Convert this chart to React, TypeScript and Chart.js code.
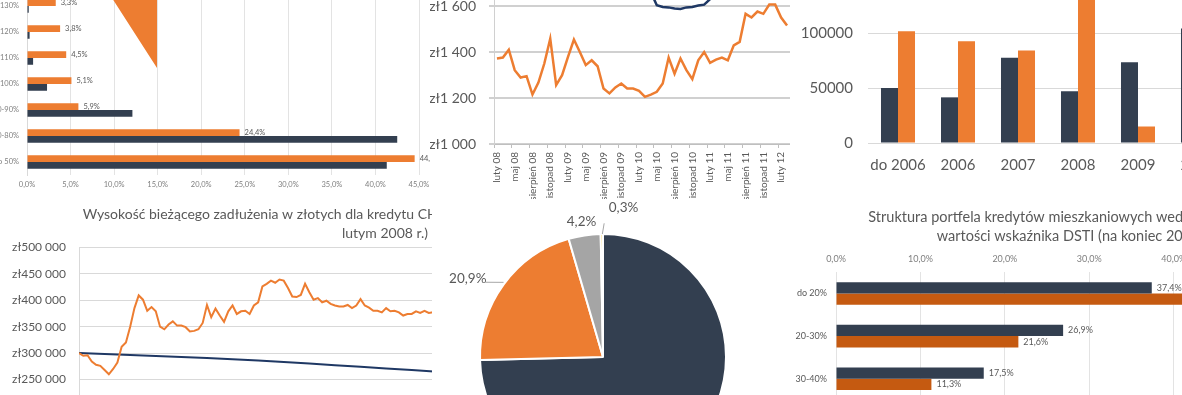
import React, { useEffect, useRef } from "react";
import { Chart, registerables } from "chart.js";

Chart.register(...registerables);

const FONT = 'Lato, "Noto Sans", sans-serif';
Chart.defaults.font.family = FONT;

const NAVY = "#333f50";
const ORANGE = "#ed7d31";
const DARK_ORANGE = "#c55a11";
const LINE_BLUE = "#1f3864";
const GRAY_TEXT = "#595959";
const LIGHT_TEXT = "#7f7f7f";
const GRID = "#d9d9d9";

// ---------- Panel 1: LTV structure (horizontal bars) ----------
const ltvCategories = ["120-130%", "110-120%", "100-110%", "90-100%", "80-90%", "50-80%", "do 50%"];
const ltvNewLoans = [3.3, 3.8, 4.5, 5.1, 5.9, 24.4, 44.5];
const ltvPortfolio = [0.2, 0.3, 0.7, 2.3, 12.1, 42.5, 41.3];
const ltvAxisMax = 45;
const fragmentSlices = [90.9, 9.1];

// ---------- Panel 2: monthly installment (line) ----------
const plMonths = ["styczeń", "luty", "marzec", "kwiecień", "maj", "czerwiec", "lipiec", "sierpień", "wrzesień", "październik", "listopad", "grudzień"];
const installmentChf = [
  1372, 1376, 1410, 1321, 1289, 1295, 1215, 1267, 1350, 1458,
  1256, 1299, 1379, 1454, 1400, 1343, 1364, 1338, 1241, 1220,
  1246, 1263, 1241, 1241, 1231, 1205, 1215, 1227, 1263, 1376,
  1306, 1372, 1321, 1282, 1364, 1400, 1353, 1367, 1376, 1364,
  1429, 1444, 1566, 1550, 1576, 1566, 1606, 1606, 1550, 1515,
];
const installmentOther = [
  1850, 1840, 1830, 1800, 1790, 1780, 1760, 1760, 1770, 1780,
  1790, 1800, 1800, 1790, 1780, 1770, 1760, 1750, 1740, 1730,
  1720, 1710, 1700, 1700, 1690, 1690, 1660, 1603, 1596, 1594,
  1589, 1587, 1594, 1596, 1602, 1606, 1630, 1660, 1690, 1700,
  1710, 1720, 1730, 1740, 1750, 1760, 1770, 1780, 1790, 1800,
];
const monthLabels = installmentChf.map((_, i) => {
  const m = (1 + i) % 12;
  const y = 8 + Math.floor((1 + i) / 12);
  return `${plMonths[m]} ${String(y).padStart(2, "0")}`;
});

// ---------- Panel 3: vintages (bars) ----------
const vintageLabels = ["do 2006", "2006", "2007", "2008", "2009", "2010"];
const vintageNavy = [50000, 41500, 77500, 47000, 73500, 104000];
const vintageOrange = [101500, 92500, 84000, 145000, 15000, null];

// ---------- Panel 4: current debt (lines) ----------
const debtTitle = [
  "Wysokość bieżącego zadłużenia w złotych dla kredytu CHF oraz kredytu PLN (obu zaciągniętych w",
  "lutym 2008 r.)",
];
const debtChf = [
  300000, 295000, 296000, 284000, 278000, 276000, 268000, 260000, 270000, 282000,
  312000, 320000, 350000, 385000, 409000, 401000, 380000, 387000, 379000, 350000,
  345000, 354000, 360000, 352000, 352000, 349000, 341000, 342000, 345000, 357000,
  391000, 368000, 384000, 371000, 359000, 379000, 390000, 374000, 379000, 380000,
  374000, 390000, 396000, 426000, 431000, 437000, 433000, 439000, 437000, 423000,
  407000, 406000, 410000, 431000, 415000, 401000, 404000, 396000, 399000, 393000,
  390000, 388000, 388000, 391000, 385000, 390000, 402000, 390000, 386000, 380000,
  380000, 377000, 385000, 379000, 380000, 377000, 371000, 374000, 374000, 379000,
  376000, 380000, 376000, 377000,
];
const debtPlnMonths = [0, 12, 24, 36, 48, 60, 72, 84];
const debtPln = [300000, 296200, 292400, 288600, 283300, 277100, 271000, 264700];

// ---------- Panel 5: pie ----------
const pieShares = [74.6, 20.9, 4.2, 0.3];

// ---------- Panel 6: DSTI (horizontal bars) ----------
const dstiTitle = [
  "Struktura portfela kredytów mieszkaniowych według przedziałów",
  "wartości wskaźnika DSTI (na koniec 2016 r.)",
];
const dstiCategories = ["do 20%", "20-30%", "30-40%"];
const dstiNavy = [37.4, 26.9, 17.5];
const dstiOrange = [43.5, 21.6, 11.3];

// ---------- helpers ----------
const fmtPct = (v: number) => `${Number(v).toFixed(1).replace(".", ",")}%`;
const fmtZl = (v: number) => "zł" + String(v).replace(/\B(?=(\d{3})+(?!\d))/g, " ");

const fixY = (w: number) => (s: any) => {
  s.width = w;
  s.paddingTop = 0;
  s.paddingBottom = 0;
};
const fixX = (h: number) => (s: any) => {
  s.height = h;
  s.paddingLeft = 0;
  s.paddingRight = 0;
};

const barLabelPlugin = {
  id: "barLabels",
  afterDatasetsDraw(chart: any, _args: any, opts: any) {
    if (!opts || !opts.datasets) return;
    const ctx = chart.ctx;
    ctx.save();
    ctx.font = `${opts.size}px ${FONT}`;
    ctx.fillStyle = opts.color;
    ctx.textBaseline = "middle";
    ctx.textAlign = "left";
    opts.datasets.forEach((di: number) => {
      const meta = chart.getDatasetMeta(di);
      meta.data.forEach((el: any, i: number) => {
        const v = chart.data.datasets[di].data[i];
        if (v == null) return;
        ctx.fillText(fmtPct(v), el.x + opts.gap, el.y + (opts.dy || 0));
      });
    });
    ctx.restore();
  },
};

const pieLabelPlugin = {
  id: "pieLabels",
  afterDatasetsDraw(chart: any, _args: any, opts: any) {
    if (!opts || !opts.specs) return;
    const meta = chart.getDatasetMeta(0);
    const a0 = meta.data[0];
    const cx = a0.x;
    const cy = a0.y;
    const r = a0.outerRadius;
    const pt = (deg: number, d: number) => {
      const a = ((deg - 90) * Math.PI) / 180;
      return [cx + d * r * Math.cos(a), cy + d * r * Math.sin(a)];
    };
    const ctx = chart.ctx;
    ctx.save();
    ctx.font = `${opts.size}px ${FONT}`;
    ctx.fillStyle = opts.color;
    ctx.strokeStyle = opts.lineColor;
    ctx.lineWidth = 1;
    ctx.textAlign = "center";
    ctx.textBaseline = "middle";
    opts.specs.forEach((s: any, i: number) => {
      if (!s) return;
      if (s.leader) {
        const [x1, y1] = pt(s.leader[0], s.leader[1]);
        const [x2, y2] = pt(s.leader[2], s.leader[3]);
        ctx.beginPath();
        ctx.moveTo(x1, y1);
        ctx.lineTo(x2, y2);
        ctx.stroke();
      }
      const [tx, ty] = pt(s.angle, s.dist);
      ctx.fillText(fmtPct(chart.data.datasets[0].data[i]), tx, ty);
    });
    ctx.restore();
  },
};

function ChartCanvas(props: { left: number; top: number; width: number; height: number; make: () => any }) {
  const ref = useRef<HTMLCanvasElement | null>(null);
  useEffect(() => {
    const chart = new Chart(ref.current as HTMLCanvasElement, props.make());
    return () => chart.destroy();
  }, []);
  return (
    <canvas
      ref={ref}
      width={props.width}
      height={props.height}
      style={{ position: "absolute", left: props.left, top: props.top, width: props.width, height: props.height, display: "block" }}
    />
  );
}

function Panel(props: { left: number; top: number; width: number; height: number; children: any }) {
  return (
    <div style={{ position: "absolute", left: props.left, top: props.top, width: props.width, height: props.height, overflow: "hidden" }}>
      {props.children}
    </div>
  );
}

const noLegend = { legend: { display: false }, tooltip: { enabled: false } };

// ---------- configs ----------
const makeLtv = () => ({
  type: "bar",
  data: {
    labels: ltvCategories,
    datasets: [
      { data: ltvNewLoans, backgroundColor: ORANGE, categoryPercentage: 0.52, barPercentage: 1 },
      { data: ltvPortfolio, backgroundColor: NAVY, categoryPercentage: 0.52, barPercentage: 1 },
    ],
  },
  plugins: [barLabelPlugin],
  options: {
    indexAxis: "y",
    animation: false,
    responsive: false,
    layout: { padding: { top: 0, right: 20, bottom: 0, left: 0 } },
    plugins: { ...noLegend, barLabels: { datasets: [0], size: 7.5, color: GRAY_TEXT, gap: 5 } },
    scales: {
      x: {
        min: 0,
        max: ltvAxisMax,
        ticks: { stepSize: 5, callback: (v: number) => fmtPct(v), font: { size: 7.5 }, color: LIGHT_TEXT, padding: 5.5 },
        grid: { color: "#e3e3e3", drawTicks: false },
        border: { display: false },
        afterFit: fixX(20),
      },
      y: {
        ticks: { font: { size: 7.5 }, color: LIGHT_TEXT, padding: 8 },
        grid: { display: false, drawTicks: false },
        border: { color: GRID },
        afterFit: fixY(57),
      },
    },
  },
});

const makeFragment = () => ({
  type: "pie",
  data: {
    labels: ["a", "b"],
    datasets: [{ data: fragmentSlices, backgroundColor: ["rgba(0,0,0,0)", ORANGE], borderWidth: 0 }],
  },
  options: { animation: false, responsive: false, radius: 120, plugins: noLegend, events: [] },
});

const makeInstallment = () => ({
  type: "line",
  data: {
    labels: monthLabels,
    datasets: [
      { data: installmentChf, borderColor: ORANGE, borderWidth: 2.5, pointRadius: 0, tension: 0 },
      { data: installmentOther, borderColor: LINE_BLUE, borderWidth: 2.5, pointRadius: 0, tension: 0 },
    ],
  },
  options: {
    animation: false,
    responsive: false,
    layout: { padding: 0 },
    plugins: noLegend,
    scales: {
      x: {
        offset: true,
        ticks: {
          autoSkip: false,
          minRotation: 90,
          maxRotation: 90,
          font: { size: 10 },
          color: GRAY_TEXT,
          padding: 4,
          callback: (_v: any, i: number) => (i % 3 === 0 ? monthLabels[i] : ""),
        },
        grid: {
          offset: true,
          drawOnChartArea: false,
          tickLength: 4,
          color: (c: any) => (c.index % 3 === 0 ? "#bfbfbf" : "rgba(0,0,0,0)"),
        },
        border: { color: "#bfbfbf" },
        afterFit: fixX(70),
      },
      y: {
        min: 1000,
        max: 1800,
        ticks: { stepSize: 200, callback: (v: number) => fmtZl(v), font: { size: 14 }, color: GRAY_TEXT, padding: 13 },
        grid: { color: "#d0d0d0", lineWidth: 2, tickLength: 5 },
        border: { color: "#d0d0d0" },
        afterFit: fixY(66),
      },
    },
  },
});

const makeVintage = () => ({
  type: "bar",
  data: {
    labels: vintageLabels,
    datasets: [
      { data: vintageNavy, backgroundColor: NAVY, categoryPercentage: 0.567, barPercentage: 1 },
      { data: vintageOrange, backgroundColor: ORANGE, categoryPercentage: 0.567, barPercentage: 1 },
    ],
  },
  options: {
    animation: false,
    responsive: false,
    layout: { padding: 0 },
    plugins: noLegend,
    scales: {
      x: {
        ticks: { font: { size: 15 }, color: GRAY_TEXT, padding: 13, autoSkip: false, minRotation: 0, maxRotation: 0 },
        grid: { display: false, drawTicks: false },
        border: { display: false },
        afterFit: fixX(50),
      },
      y: {
        min: 0,
        max: 150000,
        ticks: { stepSize: 50000, callback: (v: number) => String(v), font: { size: 15 }, color: GRAY_TEXT, padding: 15 },
        grid: { color: GRID, drawTicks: false },
        border: { display: false },
        afterFit: fixY(78),
      },
    },
  },
});

const makeDebt = () => ({
  type: "line",
  data: {
    datasets: [
      {
        data: debtChf.map((v, i) => ({ x: i, y: v })),
        borderColor: ORANGE,
        borderWidth: 2,
        pointRadius: 0,
        tension: 0,
      },
      {
        data: debtPlnMonths.map((m, i) => ({ x: m, y: debtPln[i] })),
        borderColor: LINE_BLUE,
        borderWidth: 2,
        pointRadius: 0,
        tension: 0.3,
      },
    ],
  },
  options: {
    animation: false,
    responsive: false,
    layout: { padding: { top: 0, right: 2, bottom: 2, left: 0 } },
    plugins: {
      ...noLegend,
      title: {
        display: true,
        text: debtTitle,
        color: GRAY_TEXT,
        font: { size: 14, weight: "normal", lineHeight: 19 / 14 },
        padding: { top: 6.5, bottom: 4.8 },
      },
    },
    scales: {
      x: { type: "linear", min: 0, max: 162, display: false },
      y: {
        min: 200000,
        max: 500000,
        ticks: { stepSize: 50000, callback: (v: number) => fmtZl(v), font: { size: 12 }, color: GRAY_TEXT, padding: 13 },
        grid: { color: GRID, drawTicks: false },
        border: { color: GRID },
        afterFit: fixY(79),
      },
    },
  },
});

const makePie = () => ({
  type: "pie",
  data: {
    labels: ["a", "b", "c", "d"],
    datasets: [
      {
        data: pieShares,
        backgroundColor: [NAVY, ORANGE, "#a5a5a5", "#ffc000"],
        borderColor: "#ffffff",
        borderWidth: 2,
      },
    ],
  },
  plugins: [pieLabelPlugin],
  options: {
    animation: false,
    responsive: false,
    radius: 123,
    layout: { padding: 0 },
    events: [],
    plugins: {
      ...noLegend,
      pieLabels: {
        size: 13.5,
        color: GRAY_TEXT,
        lineColor: "#a6a6a6",
        specs: [
          null,
          { angle: 300.2, dist: 1.272, leader: [306.9, 1.011, 302.5, 1.131] },
          { angle: 351.0, dist: 1.115 },
          { angle: 7.84, dist: 1.223, leader: [359.7, 1.0, 0.5, 1.087] },
        ],
      },
    },
  },
});

const makeDsti = () => ({
  type: "bar",
  data: {
    labels: dstiCategories,
    datasets: [
      { data: dstiNavy, backgroundColor: NAVY, categoryPercentage: 0.53, barPercentage: 1 },
      { data: dstiOrange, backgroundColor: DARK_ORANGE, categoryPercentage: 0.53, barPercentage: 1 },
    ],
  },
  plugins: [barLabelPlugin],
  options: {
    indexAxis: "y",
    animation: false,
    responsive: false,
    layout: { padding: 0 },
    plugins: {
      ...noLegend,
      title: {
        display: true,
        text: dstiTitle,
        color: GRAY_TEXT,
        font: { size: 14.5, weight: "normal", lineHeight: 19 / 14.5 },
        padding: { top: 9.5, bottom: 6.7 },
      },
      barLabels: { datasets: [0, 1], size: 9, color: GRAY_TEXT, gap: 5 },
    },
    scales: {
      x: {
        position: "top",
        min: 0,
        max: 62.3,
        ticks: { stepSize: 10, callback: (v: number) => fmtPct(v), font: { size: 9 }, color: LIGHT_TEXT, padding: 8 },
        grid: { color: "#e3e3e3", drawTicks: false },
        border: { display: false },
        afterFit: fixX(20),
      },
      y: {
        ticks: { font: { size: 9 }, color: GRAY_TEXT, padding: 9 },
        grid: { display: false, drawTicks: false },
        border: { display: false },
        afterFit: fixY(46),
      },
    },
  },
});

export default function App() {
  useEffect(() => {
    document.body.style.margin = "0";
  }, []);
  return (
    <div style={{ position: "fixed", left: 0, top: 0, width: 1182, height: 395, background: "#ffffff", overflow: "hidden" }}>
      <Panel left={0} top={0} width={430} height={198}>
        <ChartCanvas left={-30} top={-7} width={469} height={202} make={makeLtv} />
        <ChartCanvas left={7} top={-82} width={300} height={300} make={makeFragment} />
      </Panel>
      <Panel left={430} top={0} width={360} height={199}>
        <ChartCanvas left={-2} top={-40} width={362} height={254} make={makeInstallment} />
      </Panel>
      <Panel left={790} top={0} width={392} height={198}>
        <ChartCanvas left={0} top={-22} width={438} height={215} make={makeVintage} />
      </Panel>
      <Panel left={0} top={198} width={432} height={197}>
        <ChartCanvas left={0} top={0} width={772} height={210} make={makeDebt} />
      </Panel>
      <Panel left={432} top={199} width={358} height={196}>
        <ChartCanvas left={-9} top={-22} width={360} height={360} make={makePie} />
      </Panel>
      <Panel left={790} top={198} width={392} height={197}>
        <ChartCanvas left={0} top={0} width={572} height={202} make={makeDsti} />
      </Panel>
    </div>
  );
}
